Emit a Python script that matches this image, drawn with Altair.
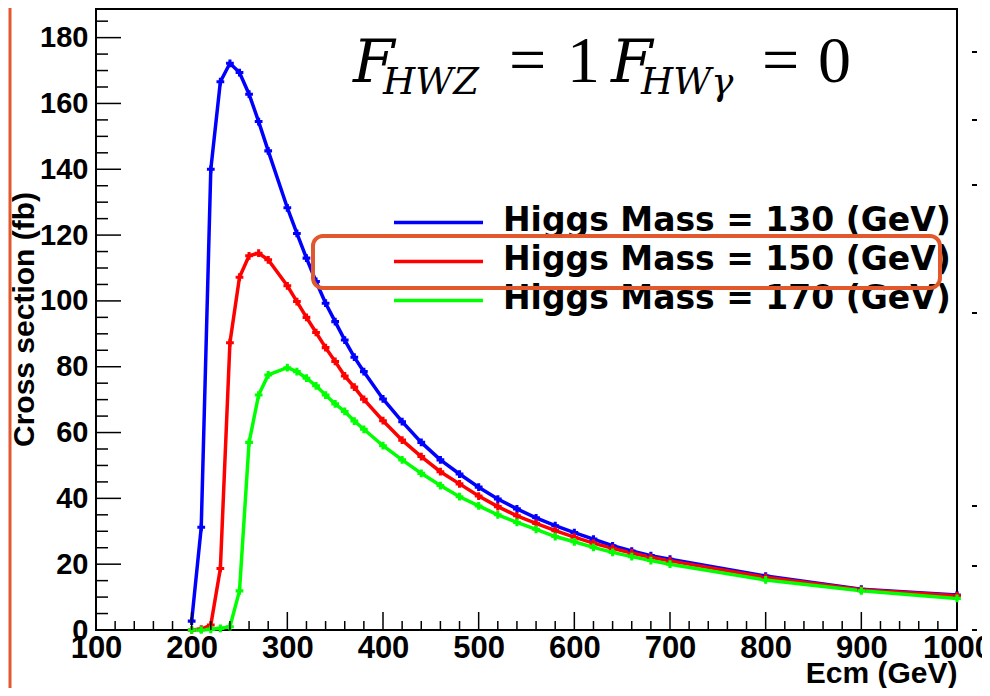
import altair as alt
import pandas as pd

# centre-of-mass energy points (GeV)
ecm = [200, 210, 220, 230, 240, 250, 260, 270, 280,
       300, 310, 320, 330, 340, 350, 360, 370, 380,
       400, 420, 440, 460, 480, 500, 520, 540, 560, 580, 600, 620, 640, 660, 680, 700,
       800, 900, 1000]

# cross sections (fb)
xs_130 = [2.7, 31.2, 140.0, 166.6, 172.2, 169.4, 162.8, 154.5, 145.6,
          128.3, 120.5, 113.0, 105.9, 99.3, 93.7, 88.1, 82.9, 78.5,
          70.2, 63.3, 57.0, 51.7, 47.4, 43.4, 39.8, 36.8, 34.1, 31.7, 29.6, 27.6, 25.6, 24.0, 22.6, 21.5,
          16.4, 12.4, 10.6]
xs_150 = [0.0, 0.3, 1.5, 18.7, 87.3, 107.2, 113.7, 114.5, 112.5,
          104.6, 99.8, 95.0, 90.4, 85.8, 81.6, 77.2, 73.8, 70.1,
          63.6, 57.7, 52.7, 48.1, 44.4, 40.7, 37.5, 34.7, 32.4, 30.2, 28.2, 26.4, 24.8, 23.4, 22.1, 21.0,
          16.0, 12.2, 10.4]
xs_170 = [0.0, 0.0, 0.2, 0.5, 1.0, 11.9, 57.0, 71.4, 77.5,
          79.7, 78.5, 76.5, 74.2, 71.4, 68.7, 66.4, 63.5, 61.0,
          56.0, 51.7, 47.6, 43.9, 40.5, 37.7, 35.0, 32.7, 30.6, 28.4, 26.8, 25.1, 23.6, 22.3, 21.1, 20.0,
          15.2, 11.9, 9.6]

masses = ["130", "150", "170"]
colors = ["#0000ff", "#ff0000", "#00ff00"]
legend_labels = ["Higgs Mass = 130 (GeV)", "Higgs Mass = 150 (GeV)", "Higgs Mass = 170 (GeV)"]

x_labels = [100, 200, 300, 400, 500, 600, 700, 800, 900, 1000]
x_minor = [v for v in range(100, 1001, 20) if v % 100]
y_labels = [0, 20, 40, 60, 80, 100, 120, 140, 160, 180]
y_minor = [v for v in range(5, 186, 5) if v % 20]

W, H = 861, 621
SANS = "Liberation Sans"
SERIF = "Liberation Serif"
MATH = "DejaVu Serif"

df = pd.concat([
    pd.DataFrame({"ecm": ecm, "xs": vals, "mass": m})
    for m, vals in zip(masses, [xs_130, xs_150, xs_170])
])

xscale = alt.Scale(domain=[100, 1000], nice=False, zero=False)
yscale = alt.Scale(domain=[0, 188.7], nice=False)
cscale = alt.Scale(domain=masses, range=colors)

x_enc = alt.X(
    "ecm:Q", scale=xscale,
    axis=alt.Axis(values=x_labels, format="d", ticks=False, domain=False, grid=False,
                  labelFont=SANS, labelFontWeight="bold", labelFontSize=31,
                  labelColor="black", labelPadding=3, labelFlush=False,
                  title="Ecm (GeV)", titleFont=SANS, titleFontWeight="bold",
                  titleFontSize=30, titleColor="black", titleAlign="right",
                  titleAnchor="end", titleX=W, titleY=52, titleBaseline="alphabetic"),
)
y_enc = alt.Y(
    "xs:Q", scale=yscale,
    axis=alt.Axis(values=y_labels, ticks=False, domain=False, grid=False,
                  labelFont=SANS, labelFontWeight="bold", labelFontSize=29,
                  labelColor="black", labelPadding=8, labelFlush=False,
                  title="Cross section (fb)", titleFont=SANS, titleFontWeight="bold",
                  titleFontSize=30, titleColor="black", titleAngle=270,
                  titleX=-72, titleY=310, titleAlign="center", titleBaseline="middle"),
)

base = alt.Chart(df)
lines = base.mark_line(strokeWidth=3.5).encode(
    x=x_enc, y=y_enc,
    color=alt.Color("mass:N", scale=cscale, legend=None),
    order="ecm:Q",
)
points = base.mark_point(shape="cross", filled=True, size=60, opacity=1).encode(
    x=alt.X("ecm:Q", scale=xscale),
    y=alt.Y("xs:Q", scale=yscale),
    color=alt.Color("mass:N", scale=cscale, legend=None),
)

# inward ticks
xt = alt.Chart(pd.DataFrame({"v": x_labels})).mark_rule(color="black", strokeWidth=1.5).encode(
    x=alt.X("v:Q", scale=xscale), y=alt.value(H), y2=alt.value(H - 18))
xtm = alt.Chart(pd.DataFrame({"v": x_minor})).mark_rule(color="black", strokeWidth=1.5).encode(
    x=alt.X("v:Q", scale=xscale), y=alt.value(H), y2=alt.value(H - 9))
yt = alt.Chart(pd.DataFrame({"v": y_labels})).mark_rule(color="black", strokeWidth=1.5).encode(
    y=alt.Y("v:Q", scale=yscale), x=alt.value(0), x2=alt.value(25))
ytm = alt.Chart(pd.DataFrame({"v": y_minor})).mark_rule(color="black", strokeWidth=1.5).encode(
    y=alt.Y("v:Q", scale=yscale), x=alt.value(0), x2=alt.value(12))

# legend drawn by hand
leg = pd.DataFrame({"label": legend_labels, "mass": masses})
leg_layers = []
for i in range(len(leg)):
    one = alt.Chart(leg.iloc[[i]])
    leg_layers.append(one.mark_rule(strokeWidth=3.5).encode(
        x=alt.value(298), x2=alt.value(387), y=alt.value(213.5 + 39 * i),
        color=alt.Color("mass:N", scale=cscale, legend=None)))
    leg_layers.append(one.mark_text(align="left", baseline="alphabetic", font="DejaVu Sans",
                                    fontWeight="bold", fontSize=33, color="black").encode(
        x=alt.value(407), y=alt.value(222 + 39 * i), text="label:N"))

# formula heading, built from pieces
title_parts = [
    ("F", 257, 73, 60, "italic", MATH),
    ("HWZ", 287, 85, 37, "italic", MATH),
    ("=", 413, 73, 66, "normal", SERIF),
    ("1", 471, 73, 66, "normal", SERIF),
    ("F", 515, 73, 60, "italic", MATH),
    ("HWγ", 545, 85, 37, "italic", MATH),
    ("=", 666, 73, 66, "normal", SERIF),
    ("0", 722, 73, 66, "normal", SERIF),
]
title_layers = []
for txt, px, py, fs, st, fnt in title_parts:
    title_layers.append(
        alt.Chart(pd.DataFrame({"t": [txt]})).mark_text(
            align="left", baseline="alphabetic", font=fnt, fontSize=fs,
            fontStyle=st, color="black").encode(
            x=alt.value(px), y=alt.value(py), text="t:N"))

# orange highlight box around the 150 GeV entry
box = alt.Chart(pd.DataFrame({"k": [0]})).mark_rect(
    filled=False, stroke="#e0582c", strokeWidth=4, cornerRadius=10, clip=False).encode(
    x=alt.value(217), x2=alt.value(844), y=alt.value(227), y2=alt.value(279))

edge = alt.Chart(pd.DataFrame({"k": [0]})).mark_rule(
    color="#e0582c", strokeWidth=3, clip=False).encode(
    x=alt.value(-86), y=alt.value(-1), y2=alt.value(679))

# fragments of the neighbouring panel on the right
frag = alt.Chart(pd.DataFrame({"py": [43, 111, 176, 304, 497, 557, 621]})).mark_rule(
    color="black", strokeWidth=2, clip=False).encode(
    x=alt.value(W + 15), x2=alt.value(W + 20), y=alt.Y("py:Q", scale=None))

chart = alt.layer(
    lines, points, xt, xtm, yt, ytm, *leg_layers, *title_layers, box, edge, frag
).properties(
    width=W, height=H,
    autosize=alt.AutoSizeParams(type="none"),
    padding={"left": 88, "top": 1, "right": 25, "bottom": 58},
    background="white",
).configure_view(stroke="black", strokeWidth=2)

chart.save("out.html", embed_options={"renderer": "svg", "actions": False})
